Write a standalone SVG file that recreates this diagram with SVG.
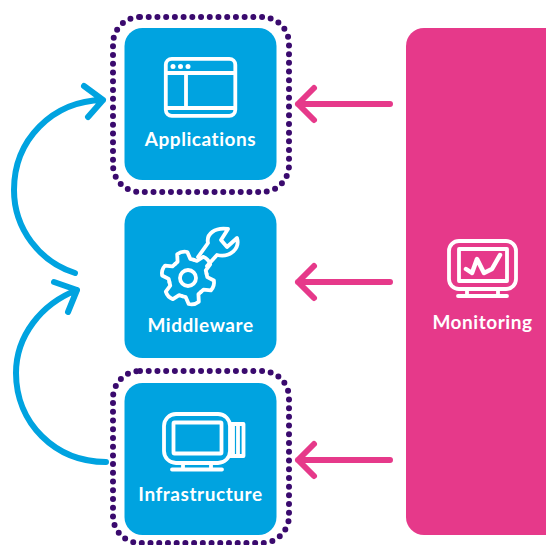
<svg xmlns="http://www.w3.org/2000/svg" xmlns:xlink="http://www.w3.org/1999/xlink" width="546" height="545" viewBox="0 0 546 545">
<style>
.blue{fill:#00a3e0}
.pink{fill:#e6398a}
.dots{fill:none;stroke:#3a0a6e;stroke-width:6;stroke-linecap:round;stroke-dasharray:0 8.72}
.ic{fill:none;stroke:#fff;stroke-width:3.8;stroke-linecap:round;stroke-linejoin:round}
text{font-family:"Lato","Liberation Sans",sans-serif;font-weight:700;font-size:19px;letter-spacing:.55px;fill:#fff;text-anchor:middle}
.c{fill:none;stroke:#00a3e0;stroke-width:6;stroke-linecap:round;stroke-linejoin:round}
.p{fill:none;stroke:#e6398a;stroke-width:6;stroke-linecap:round;stroke-linejoin:round}
</style>
<defs><path id="tooth" d="M-9.500-16.500L-6.500-18.200-5.200-25.500Q0-28 5.200-25.500L6.500-18.200 9.500-16.500"/></defs>
<g id="connectors">
<path class="c" d="M75 273C40 262 14 229 14 190C14 140 52 101 103 100M84 86L103 100 88 117"/>
<path class="c" d="M106 462C55 462 16 423 16 373C16 336 41 304 77 290M54 282L77 290 68 312"/>
<path class="p" d="M390 104H298M314 88L298 104 314 120"/>
<path class="p" d="M390 282H298M314 266L298 282 314 298"/>
<path class="p" d="M390 460H298M314 444L298 460 314 476"/>
</g>
<g id="applications-group"><rect class="dots" x="113" y="17" width="176" height="175" rx="27"/></g>
<g id="infrastructure-group"><rect class="dots" x="113" y="371" width="176" height="172" rx="27"/></g>
<g id="applications">
<rect class="blue" x="124.500" y="28" width="152" height="152" rx="18"/>
<g class="ic"><rect x="165.800" y="58.800" width="69.500" height="57" rx="6"/><path d="M166 73H235M166 108H235M186 73V108"/></g>
<g fill="#fff"><circle cx="173" cy="66.500" r="2.500"/><circle cx="180.500" cy="66.500" r="2.500"/><circle cx="188" cy="66.500" r="2.500"/></g>
<text x="200.500" y="146">Applications</text>
</g>
<g id="middleware">
<rect class="blue" x="124.500" y="206" width="152" height="152" rx="18"/>
<g class="ic" transform="translate(188 278)">
<use xlink:href="#tooth" href="#tooth" transform="rotate(-13)"/>
<use xlink:href="#tooth" href="#tooth" transform="rotate(47)"/>
<use xlink:href="#tooth" href="#tooth" transform="rotate(107)"/>
<use xlink:href="#tooth" href="#tooth" transform="rotate(167)"/>
<use xlink:href="#tooth" href="#tooth" transform="rotate(227)"/>
<use xlink:href="#tooth" href="#tooth" transform="rotate(287)"/>
<circle r="8"/>
</g>
<path class="ic" d="M198 257L208 243C206 234 215 227 228 229L221 240 227 247 237 238C240 248 231 258 217 255L207 266"/>
<text x="200.500" y="332">Middleware</text>
</g>
<g id="infrastructure">
<rect class="blue" x="124.500" y="383" width="152" height="152" rx="18"/>
<g class="ic"><rect x="164" y="414" width="66" height="49" rx="12"/><rect x="173.500" y="422.500" width="48" height="31" rx="1"/><path d="M230 424H243.500V456H230M233 424V456M238 424V456M172 469.500H222M183 464V469M211 464V469"/></g>
<text x="200.500" y="501">Infrastructure</text>
</g>
<g id="monitoring">
<path class="pink" d="M424 28H546V535H424A18 18 0 0 1 406 517V46A18 18 0 0 1 424 28Z"/>
<g class="ic"><rect x="449" y="241" width="67" height="48" rx="10"/><rect x="459" y="249" width="48" height="32"/><path d="M458 296H507M467 290V295M498 290V295"/><path stroke-width="4.500" d="M466 269L472 273 477 259 484 273 492 269 500 255"/></g>
<text x="482.500" y="329">Monitoring</text>
</g>
</svg>
